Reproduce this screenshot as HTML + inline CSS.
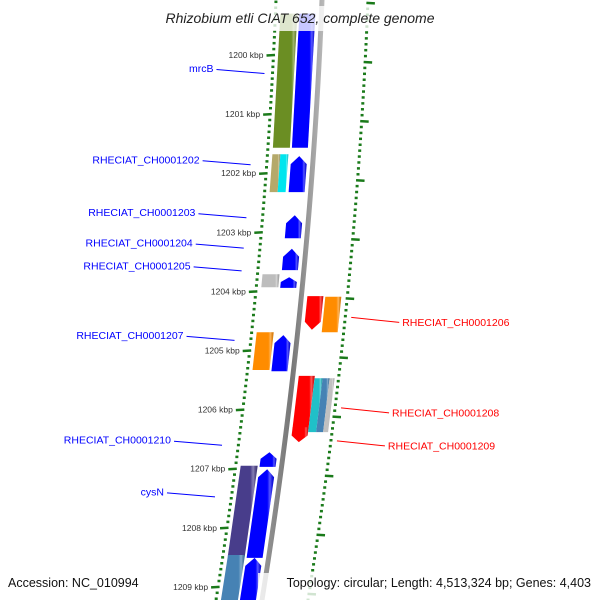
<!DOCTYPE html>
<html><head><meta charset="utf-8"><style>
html,body{margin:0;padding:0;background:#fff;}
svg{display:block;font-family:"Liberation Sans","DejaVu Sans",sans-serif;}
</style></head><body>
<svg id="map" width="600" height="600" viewBox="0 0 600 600">
<defs>
<linearGradient id="shade" x1="0" y1="0" x2="1" y2="0">
<stop offset="0" stop-color="#fff" stop-opacity="0.0"/>
<stop offset="0.75" stop-color="#fff" stop-opacity="0.0"/>
<stop offset="0.85" stop-color="#fff" stop-opacity="0.35"/>
<stop offset="1" stop-color="#000" stop-opacity="0.15"/>
</linearGradient>
<linearGradient id="bb" x1="0" y1="0" x2="1" y2="0">
<stop offset="0" stop-color="#999"/><stop offset="0.5" stop-color="#777"/><stop offset="1" stop-color="#bbb"/>
</linearGradient>
</defs>
<g id="ticks"></g>
<g id="feats"></g>
<g id="labels"></g>
</svg>
<script>
// ---- data ----
const featStart = [1199.3,1199.3,1201.68,1201.68,1201.71,1202.71,1203.28,1203.71,1203.76,1204.08,1204.09,1204.69,1204.74,1205.43,1206.30,1205.47,1205.47,1205.47,1206.72,1206.95,1207.01,1208.46,1208.51];
const featEnd   = [1201.57,1201.57,1202.32,1202.32,1202.32,1203.10,1203.64,1203.93,1203.94,1204.65,1204.69,1205.33,1205.35,1206.32,1206.55,1206.38,1206.38,1206.38,1206.97,1208.48,1208.51,1209.4,1209.4];
const featLane  = ['fo','fi','fo1','fo2','fi','fi','fi','fo','fi','ri','ro','fo','fi','ri','ri','ro1','ro2','ro3','fi','fo','fi','fo','fi'];
const featColor = ['#6b8e23','#0000ff','#b5a96a','#00e5ee','#0000ff','#0000ff','#0000ff','#bdbdbd','#0000ff','#ff0000','#ff8c00','#ff8c00','#0000ff','#ff0000','#ff0000','#20c0c8','#4682b4','#c0c0c0','#0000ff','#483d8b','#0000ff','#4682b4','#0000ff'];
const featHead  = ['none','none','none','none','up','up','up','none','up','down','none','none','up','none','down','none','none','none','up','none','up','none','up'];
const tickKbp = [1199,1200,1201,1202,1203,1204,1205,1206,1207,1208,1209];
const tickLabels = ['1199 kbp','1200 kbp','1201 kbp','1202 kbp','1203 kbp','1204 kbp','1205 kbp','1206 kbp','1207 kbp','1208 kbp','1209 kbp'];
const leftNames = ['mrcB','RHECIAT_CH0001202','RHECIAT_CH0001203','RHECIAT_CH0001204','RHECIAT_CH0001205','RHECIAT_CH0001207','RHECIAT_CH0001210','cysN'];
const leftKbp   = [1200.33,1201.88,1202.78,1203.30,1203.69,1204.87,1206.65,1207.53];
const rightNames = ['RHECIAT_CH0001206','RHECIAT_CH0001208','RHECIAT_CH0001209'];
const rightKbp   = [1204.44,1205.97,1206.53];

// ---- geometry ----
const NS='http://www.w3.org/2000/svg';
const Y = k => 55 + (k-1200)*59.1;
const BX = y => 322 - 0.04*y - 0.0001*y*y;
const lanes = {fi:[-22,-6],fo:[-41,-24],fo1:[-41,-33],fo2:[-33,-25],ri:[6,22],ro:[24,40],ro1:[22,30],ro2:[30,37],ro3:[37,42]};
function mk(tag, attrs, parent){const e=document.createElementNS(NS,tag);for(const k in attrs)e.setAttribute(k,attrs[k]);parent.appendChild(e);return e;}
const svg=document.getElementById('map');
const gT=document.getElementById('ticks'), gF=document.getElementById('feats'), gL=document.getElementById('labels');

// backbone
(function(){const pts=[];for(let y=-5;y<=605;y+=10)pts.push([BX(y)-2.5,y]);for(let y=605;y>=-5;y-=10)pts.push([BX(y)+2.5,y]);
const p=mk('polygon',{points:pts.map(p=>p.join(',')).join(' '),fill:'url(#bb)'},gF);

})();

// tick rings
for(let i=0;i<=120;i++){
  const k=1199+i*0.1, y=Y(k); if(y<-5||y>605) continue;
  const major = i%10===0;
  const x=BX(y)-46;
  const t=mk('line',{x1:major?x-7:x-1.5,y1:y+(major?0.5:0),x2:x+1.5,y2:y,stroke:'#1a7a1a','stroke-width':major?2.5:2.5},gT);
  
  
  const y2=y+7, x2=BX(y2)+46;
  const t2=mk('line',{x1:x2-1.5,y1:y2,x2:major?x2+7:x2+1.5,y2:y2+(major?0.5:0),stroke:'#1a7a1a','stroke-width':2.5},gT);
  
  
}
tickKbp.forEach((k,i)=>{const y=Y(k);if(y<10||y>598)return;
  const t=mk('text',{x:BX(y)-56,y:y+3,'text-anchor':'end','font-size':'8.5',fill:'#333'},gT);t.textContent=tickLabels[i];
  
  });

// features
featStart.forEach((s,i)=>{
  const y1=Y(s), y2=Y(featEnd[i]); const [a,b]=lanes[featLane[i]];
  const h=featHead[i], hl=Math.min(8,(y2-y1)*0.45);
  const L=y=>BX(y)+a, R=y=>BX(y)+b, M=y=>BX(y)+(a+b)/2;
  let pts;
  if(h==='up'){pts=[[M(y1),y1],[R(y1+hl),y1+hl],[R(y2),y2],[L(y2),y2],[L(y1+hl),y1+hl]];}
  else if(h==='down'){pts=[[L(y1),y1],[R(y1),y1],[R(y2-hl),y2-hl],[M(y2),y2],[L(y2-hl),y2-hl]];}
  else pts=[[L(y1),y1],[R(y1),y1],[R(y2),y2],[L(y2),y2]];
  const d=pts.map(p=>p[0].toFixed(1)+','+p[1].toFixed(1)).join(' ');
  const p=mk('polygon',{points:d,fill:featColor[i]},gF);
  
  
  const o=mk('polygon',{points:d,fill:'url(#shade)'},gF);
  
  
});

// labels
leftNames.forEach((n,i)=>{const y=Y(leftKbp[i]);const lx=BX(y)-58+ (i===0?8:0);
  const ty=y-6-(i*0.3);
  const t=mk('text',{x:lx-55,y:ty+3.5,'text-anchor':'end','font-size':'10.5',fill:'#0000ff'},gL);t.textContent=n;
  
  
  const l=mk('line',{x1:lx-52,y1:ty+1,x2:lx-4,y2:ty+5,stroke:'#0000ff','stroke-width':1},gL);
  
  });
rightNames.forEach((n,i)=>{const y=Y(rightKbp[i]);const lx=BX(y)+52;
  const l=mk('line',{x1:lx,y1:y,x2:lx+48,y2:y+5,stroke:'#ff0000','stroke-width':1},gL);
  
  
  const t=mk('text',{x:lx+51,y:y+8.5,'font-size':'10.5',fill:'#ff0000'},gL);t.textContent=n;
  
  });
</script>
<svg width="600" height="600" viewBox="0 0 600 600" style="position:absolute;left:0;top:0;font-family:'Liberation Sans','DejaVu Sans',sans-serif">
<rect x="148" y="6" width="306" height="25" fill="#fff" fill-opacity="0.78"/>
<text x="300" y="23" text-anchor="middle" font-size="14" font-style="italic" fill="#222">Rhizobium etli CIAT 652, complete genome</text>
<rect x="258" y="573" width="337" height="27" fill="#fff" fill-opacity="0.8"/>
<text x="8" y="587" font-size="12.5" fill="#111">Accession: NC_010994</text>
<text x="591" y="587" text-anchor="end" font-size="12.5" fill="#111">Topology: circular; Length: 4,513,324 bp; Genes: 4,403</text>
</svg>
</body></html>
